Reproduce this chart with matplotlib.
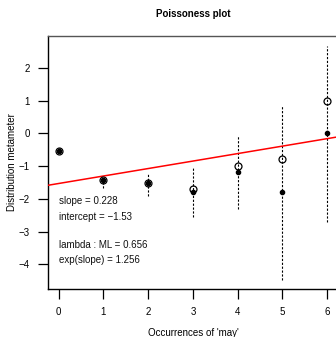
import numpy as np
import matplotlib.pyplot as plt

plt.rcParams['font.family'] = ['Liberation Sans', 'DejaVu Sans']

# poissoness plot values for occurrences of 'may'
k = [0, 1, 2, 3, 4, 5, 6]
count_metameter = [-0.53, -1.42, -1.52, -1.70, -1.00, -0.79, 0.99]
centered = [-0.53, -1.42, -1.52, -1.78, -1.19, -1.78, 0.00]
ci_lower = [-0.60, -1.68, -1.90, -2.54, -2.32, -4.47, -2.70]
ci_upper = [-0.46, -1.32, -1.20, -1.07, -0.08, 0.86, 2.67]

slope = 0.228
intercept = -1.53
lambda_ml = 0.656

fig = plt.figure(figsize=(3.36, 3.37), dpi=100)
ax = fig.add_axes([0.1429, 0.1424, 0.8628, 0.7508])

xlim = (-0.24, 6.24)
ax.set_xlim(*xlim)
ax.set_ylim(-4.75, 2.97)

# confidence intervals around the centered points
ax.vlines(k, ci_lower, ci_upper, colors='black', linewidth=0.8,
          linestyles=(0, (2.0, 1.5)), zorder=2)

# fitted line
xs = np.array(xlim)
ax.plot(xs, intercept + slope * xs, color='red', linewidth=1.1, zorder=3)

ax.plot(k, count_metameter, 'o', markersize=5.0, markerfacecolor='none',
        markeredgecolor='black', markeredgewidth=0.9, zorder=4)
ax.plot(k, centered, 'o', markersize=3.0, color='black', zorder=5)

txt = dict(fontsize=7, ha='left', va='center', color='#111111')
ax.text(0.0, -2.05, 'slope = %.3f' % slope, **txt)
ax.text(0.0, -2.54, 'intercept = \u2212%.2f' % abs(intercept), **txt)
ax.text(0.0, -3.41, 'lambda : ML = %.3f' % lambda_ml, **txt)
ax.text(0.0, -3.88, 'exp(slope) = %.3f' % np.exp(slope), **txt)

ax.set_xticks(k)
ax.set_yticks([-4, -3, -2, -1, 0, 1, 2])
ax.set_yticklabels(['\u22124', '\u22123', '\u22122', '\u22121', '0', '1', '2'])
ax.tick_params(direction='out', length=7, width=0.9, labelsize=7, pad=6)

for side in ['left', 'bottom']:
    ax.spines[side].set_linewidth(1.0)
    ax.spines[side].set_color('black')
ax.spines['top'].set_color('#555555')
ax.spines['top'].set_linewidth(1.0)
ax.spines['right'].set_visible(False)

ax.set_title('Poissoness plot', fontsize=7, fontweight='bold', pad=14)
ax.set_xlabel("Occurrences of 'may'", fontsize=7, labelpad=8)
ax.set_ylabel('Distribution metameter', fontsize=7, labelpad=1)

fig.savefig('out.png', dpi=100)
